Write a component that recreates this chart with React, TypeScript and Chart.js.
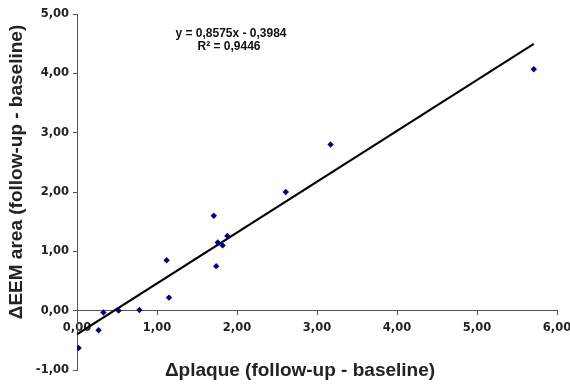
import React, { useEffect, useRef } from "react";
import { Chart, registerables } from "chart.js";

Chart.register(...registerables);

const plaqueX = [0.02, 0.27, 0.33, 0.52, 0.78, 1.12, 1.15, 1.71, 1.74, 1.76, 1.82, 1.88, 2.61, 3.17, 5.71];
const eemY = [-0.63, -0.33, -0.03, 0.0, 0.01, 0.85, 0.22, 1.6, 0.75, 1.15, 1.1, 1.26, 2.0, 2.8, 4.07];
const slope = [0.8575];
const intercept = [-0.3984];
const trendX = [0, 5.71];
const equationLines = ["y = 0,8575x - 0,3984", "R² = 0,9446"];
const xTitle = "Δplaque (follow-up - baseline)";
const yTitle = "ΔEEM area (follow-up - baseline)";

const fmt = (v: number) => Number(v).toFixed(2).replace(".", ",");
const tickFont = { family: "'DejaVu Sans', sans-serif", size: 11.5, weight: "bold" };

export default function App() {
  const ref = useRef<HTMLCanvasElement | null>(null);
  useEffect(() => {
    if (!ref.current) return;
    const points = plaqueX.map((x, i) => ({ x, y: eemY[i] }));
    const trend = trendX.map((x) => ({ x, y: slope[0] * x + intercept[0] }));
    const textPlugin = {
      id: "textPlugin",
      afterDraw(chart: any) {
        const ctx = chart.ctx;
        ctx.save();
        ctx.fillStyle = "#111";
        ctx.textAlign = "center";
        ctx.textBaseline = "middle";
        ctx.font = "bold 12px 'Liberation Sans', Arial, sans-serif";
        ctx.fillText(equationLines[0], 231, 34);
        ctx.fillText(equationLines[1], 229, 47);
        ctx.font = "bold 19px 'Liberation Sans', Arial, sans-serif";
        ctx.fillStyle = "#222";
        ctx.fillText(xTitle, 300, 371);
        ctx.translate(17, 172);
        ctx.rotate(-Math.PI / 2);
        ctx.fillText(yTitle, 0, 0);
        ctx.restore();
      },
    };
    const chart = new Chart(ref.current, {
      type: "scatter",
      data: {
        datasets: [
          {
            type: "line" as any,
            data: trend,
            borderColor: "#000",
            borderWidth: 2,
            pointRadius: 0,
            fill: false,
            order: 2,
          },
          {
            data: points,
            backgroundColor: "#000080",
            borderColor: "#000080",
            pointStyle: "rectRot",
            pointRadius: 3.2,
            borderWidth: 0,
            order: 1,
          },
        ],
      },
      options: {
        animation: false,
        responsive: false,
        maintainAspectRatio: false,
        layout: { padding: { top: 14, bottom: 15, right: 13, left: 0 } },
        plugins: { legend: { display: false }, tooltip: { enabled: false } },
        scales: {
          x: {
            type: "linear",
            position: { y: 0 } as any,
            min: 0,
            max: 6,
            grid: { drawOnChartArea: false, tickLength: 4, color: "#555" },
            border: { color: "#555", width: 1 },
            ticks: {
              stepSize: 1,
              color: "#222",
              font: tickFont,
              padding: 6,
              callback: (v: any) => fmt(v),
            },
            afterFit: (s: any) => {
              s.paddingLeft = 0;
              s.paddingRight = 0;
            },
          },
          y: {
            type: "linear",
            min: -1,
            max: 5,
            grid: { drawOnChartArea: false, tickLength: 4, color: "#555" },
            border: { color: "#555", width: 1 },
            ticks: {
              stepSize: 1,
              color: "#222",
              font: tickFont,
              padding: 4,
              callback: (v: any) => fmt(v),
            },
            afterFit: (s: any) => {
              s.width = 77;
              s.paddingTop = 0;
              s.paddingBottom = 0;
            },
          },
        },
      } as any,
      plugins: [textPlugin],
    });
    return () => chart.destroy();
  }, []);
  return (
    <div style={{ position: "fixed", left: 0, top: 0, width: 570, height: 385, background: "#fff" }}>
      <canvas ref={ref} width={570} height={385} style={{ width: 570, height: 385 }} />
    </div>
  );
}
